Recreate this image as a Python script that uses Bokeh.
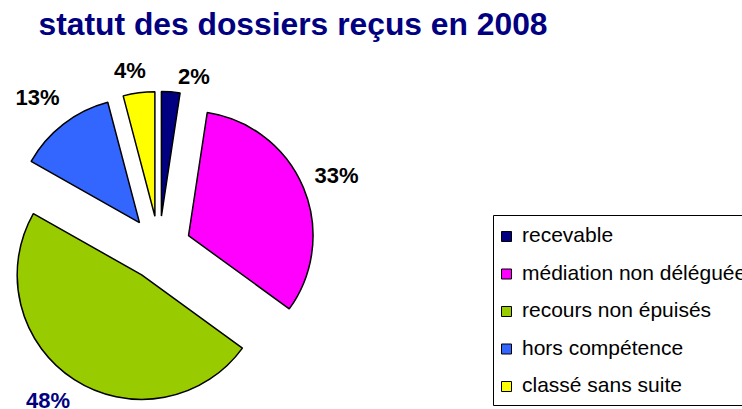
import math
from bokeh.plotting import figure
from bokeh.models import Range1d, ColumnDataSource
from bokeh.core.properties import value
from bokeh.embed import file_html
from bokeh.resources import INLINE

# ---- data ----
categories = ["recevable", "médiation non déléguée", "recours non épuisés",
              "hors compétence", "classé sans suite"]
shares = [2.4, 32.6, 48.2, 12.7, 4.1]
colors = ["#000080", "#FF00FF", "#99CC00", "#3366FF", "#FFFF00"]
label_colors = ["#000000", "#000000", "#000080", "#000000", "#000000"]
title_text = "statut des dossiers reçus en 2008"

# ---- layout (reference page pixels) ----
W, H = 742, 409
REF_H = 409
FONT = "Liberation Sans"
MID = 0.3465  # em distance from baseline to middle of the font box


def ry(y):
    return REF_H - y


p = figure(width=W, height=H,
           x_range=Range1d(0, W),
           y_range=Range1d(REF_H - H, REF_H),
           output_backend="svg", toolbar_location=None, min_border=0,
           x_axis_location=None, y_axis_location=None,
           outline_line_color=None, background_fill_color="white",
           border_fill_color="white")
p.grid.visible = False

CX, CY = 158.5, ry(247.5)
R = 124.5
EXPLODE = 32
LABEL_RHO = 167
LFS = 22
label_tangent_nudge = [22, 2, 11, -4, -6]   # px, clockwise
label_radial_nudge = [-5.5, 0, 0, 4.5, 0]   # px, outward

total = sum(shares)
xs, ys, starts, ends = [], [], [], []
lx, ly, ltxt = [], [], []
cum = 0.0
for i, v in enumerate(shares):
    a0 = cum / total * 2 * math.pi
    cum += v
    a1 = cum / total * 2 * math.pi
    mid = (a0 + a1) / 2
    s, c = math.sin(mid), math.cos(mid)
    xs.append(CX + EXPLODE * s)
    ys.append(CY + EXPLODE * c)
    starts.append(math.pi / 2 - a1)
    ends.append(math.pi / 2 - a0)
    txt = f"{round(v)}%"
    ndig = len(txt) - 1
    w = LFS * (0.556 * ndig + 0.889)
    h = LFS
    dist = LABEL_RHO + abs(s) * w / 2 + abs(c) * h / 2 + label_radial_nudge[i]
    t = label_tangent_nudge[i]
    # clockwise tangent in data coords (y up): (cos, -sin)
    lx.append(CX + dist * s + t * c)
    ly.append(CY + dist * c - t * s)
    ltxt.append(txt)

src = ColumnDataSource(dict(x=xs, y=ys, start=starts, end=ends,
                            color=colors, cat=categories))
p.wedge(x="x", y="y", radius=R, start_angle="start", end_angle="end",
        fill_color="color", line_color="black", line_width=1.5, source=src)

lsrc = ColumnDataSource(dict(x=lx, y=ly, text=ltxt, color=label_colors))
p.text(x="x", y="y", text="text", text_color="color", source=lsrc,
       text_font=value(FONT), text_font_style="bold",
       text_font_size=f"{LFS}px", text_align="center",
       text_baseline="middle")

# title
TFS = 31.8
p.text(x=[38], y=[ry(35 - MID * TFS)], text=[title_text], text_color="#000080",
       text_font=value(FONT), text_font_style="bold", text_font_size=f"{TFS}px",
       text_align="left", text_baseline="middle")

# legend (manual box)
LEG_L, LEG_T, LEG_B = 493, 215, 405
GFS = 21
p.quad(left=[LEG_L], right=[LEG_L + 320], top=[ry(LEG_T)], bottom=[ry(LEG_B)],
       fill_color="white", line_color="black", line_width=1)
item_cy = [236 + 37.5 * i for i in range(len(categories))]
p.rect(x=[506] * len(categories), y=[ry(c) for c in item_cy], width=10, height=10,
       fill_color=colors, line_color="black", line_width=1)
p.text(x=[521.5] * len(categories),
       y=[ry(c + 5.7 - MID * GFS) for c in item_cy],
       text=categories, text_color="black", text_font=value(FONT),
       text_font_size=f"{GFS}px", text_align="left", text_baseline="middle")

open("out.html", "w").write(file_html(p, INLINE))
